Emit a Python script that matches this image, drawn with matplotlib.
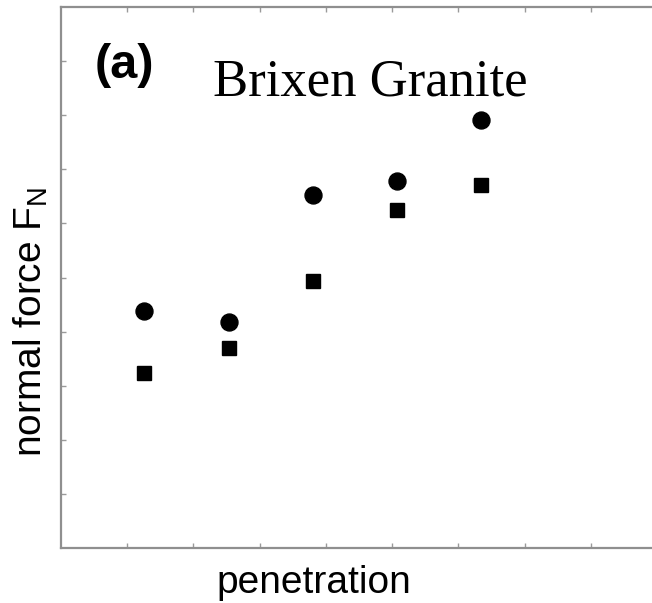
import matplotlib.pyplot as plt

# values, in axis units (ticks are unlabelled)
penetration = [1.26, 2.53, 3.80, 5.07, 6.34]
force_circle = [4.38, 4.18, 6.52, 6.79, 7.92]
force_square = [3.23, 3.69, 4.94, 6.25, 6.71]
x_ticks = [1, 2, 3, 4, 5, 6, 7, 8]
y_ticks = [1, 2, 3, 4, 5, 6, 7, 8, 9]

W, H = 652, 603
plt.rcParams['font.family'] = ['Liberation Sans', 'DejaVu Sans']
plt.rcParams['mathtext.fontset'] = 'custom'
plt.rcParams['mathtext.rm'] = 'Liberation Sans'

fig = plt.figure(figsize=(W / 100, H / 100), dpi=100)
# axes box in pixel coordinates (right spine falls just outside the picture)
left, right, top, bottom = 61, 657, 7, 548
ax = fig.add_axes([left / W, 1 - bottom / H, (right - left) / W, (bottom - top) / H])

ax.plot(penetration, force_circle, 'o', color='black', markersize=12.2)
ax.plot(penetration, force_square, 's', color='black', markersize=9.6)

ax.set_xlim(0, 9)
ax.set_ylim(0, 10)
ax.set_xticks(x_ticks)
ax.set_yticks(y_ticks)
ax.tick_params(direction='in', length=3.3, width=1.0, color='#9a9a9a',
               top=True, right=True, labelbottom=False, labelleft=False)
for spine in ax.spines.values():
    spine.set_color('#8f8f8f')
    spine.set_linewidth(1.6)


def px(x, y):
    return x / W, 1 - y / H


fig.text(*px(95, 65), '(a)', fontsize=35, fontweight='bold', ha='left', va='center')
fig.text(*px(213, 95), 'Brixen Granite', fontsize=38, family='Liberation Serif',
         ha='left', va='baseline')
fig.text(*px(314, 593), 'penetration', fontsize=28, ha='center', va='baseline')
fig.text(*px(31, 322), r'normal force F$_\mathregular{N}$', fontsize=28,
         rotation=90, ha='center', va='center')

plt.savefig('out.png', dpi=100)
plt.close()
